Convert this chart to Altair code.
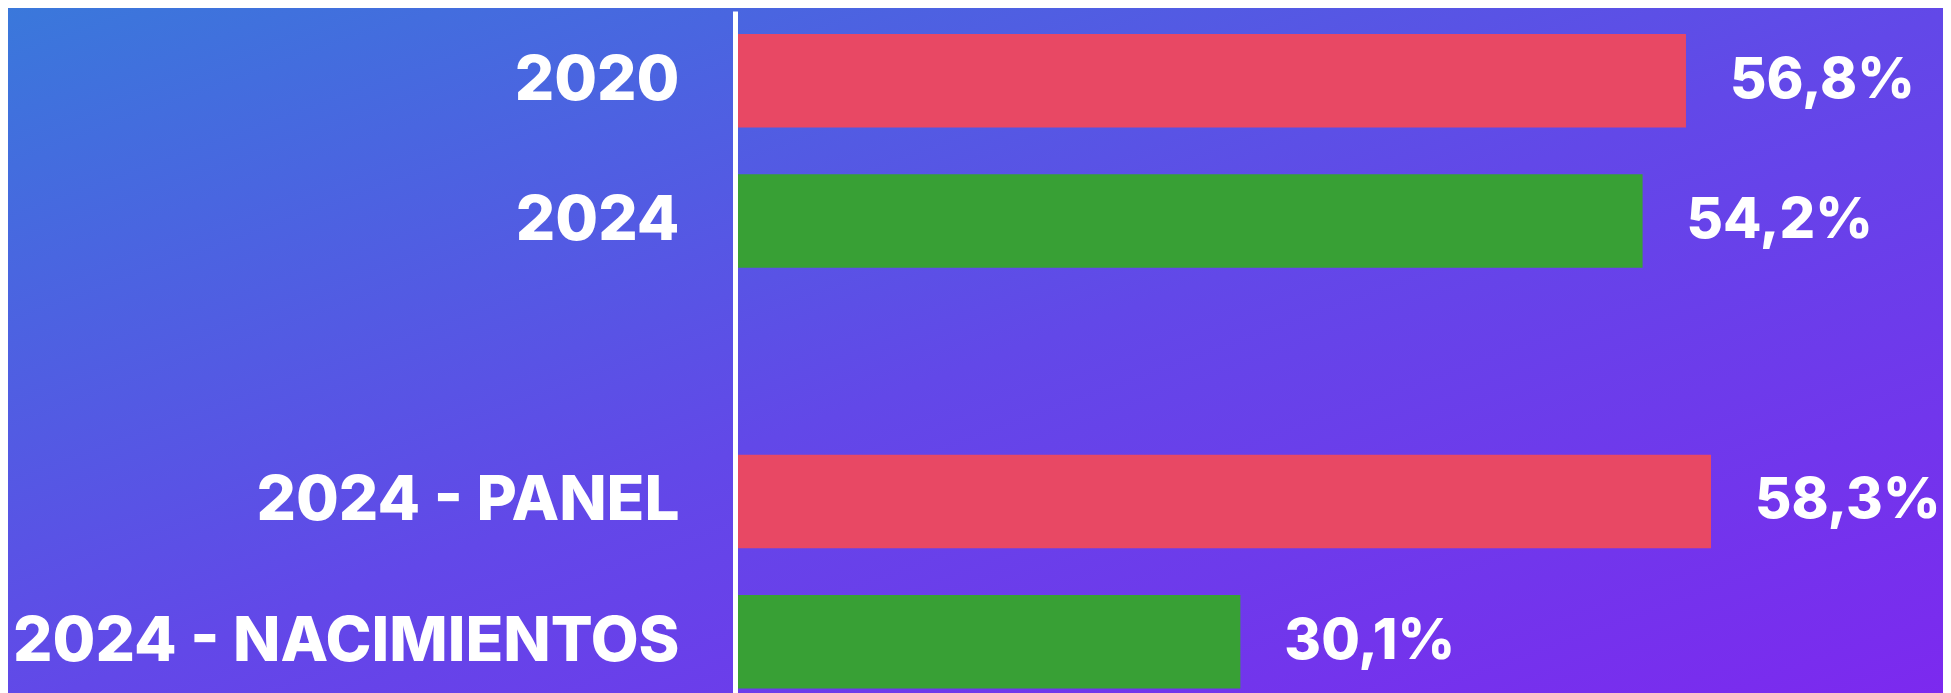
import altair as alt
import pandas as pd

# --- data ---
categorias = ["2020", "2024", "2024 - PANEL", "2024 - NACIMIENTOS"]
valores = [56.8, 54.2, 58.3, 30.1]
series = ["A", "B", "A", "B"]
orden_y = ["2020", "2024", " ", "2024 - PANEL", "2024 - NACIMIENTOS"]

df = pd.DataFrame({"categoria": categorias, "valor": valores, "serie": series})

W, H = 1205, 682
PAD = {"left": 730, "top": 3, "right": 0, "bottom": 0}
FONT = "Inter"

y_enc = alt.Y(
    "categoria:N",
    sort=orden_y,
    scale=alt.Scale(domain=orden_y, paddingInner=0.333, paddingOuter=0.098, align=0.836),
    axis=alt.Axis(
        title=None,
        ticks=False,
        offset=3,
        domainColor="white",
        domainWidth=5,
        labelColor="white",
        labelFont=FONT,
        labelFontWeight=800,
        labelFontSize=62,
        labelPadding=56,
        labelLimit=800,
        zindex=2,
    ),
)
x_enc = alt.X("valor:Q", scale=alt.Scale(domain=[0, 72.2], nice=False, zero=True), axis=None)

bg = alt.Chart(pd.DataFrame({"k": [0]})).mark_rect(
    color=alt.Gradient(
        gradient="linear", x1=0, y1=0, x2=1, y2=1,
        stops=[
            alt.GradientStop(color="#3A78DB", offset=0),
            alt.GradientStop(color="#6248E8", offset=0.5),
            alt.GradientStop(color="#7D28EF", offset=1),
        ],
    )
).encode(
    x=alt.value(-PAD["left"]), x2=alt.value(W + 20),
    y=alt.value(-PAD["top"]), y2=alt.value(H + 20),
)

bars = alt.Chart(df).mark_bar().encode(
    y=y_enc,
    x=x_enc,
    color=alt.Color("serie:N", scale=alt.Scale(domain=["A", "B"], range=["#E84864", "#38A035"]), legend=None),
)

labels = alt.Chart(df).transform_calculate(
    etiqueta="replace(format(datum.valor, '.1f'), '.', ',') + '%'"
).mark_text(
    align="left", baseline="middle", dx=44, color="white",
    font=FONT, fontWeight=800, fontSize=56,
).encode(
    y=alt.Y("categoria:N", sort=orden_y),
    x="valor:Q",
    text="etiqueta:N",
)

chart = alt.layer(bg, bars, labels).properties(
    width=W, height=H, padding=PAD,
    autosize=alt.AutoSizeParams(type="none"),
).configure_view(stroke=None).configure(background="#5a55e6")

chart.save("out.html", embed_options={"renderer": "svg", "actions": False})
